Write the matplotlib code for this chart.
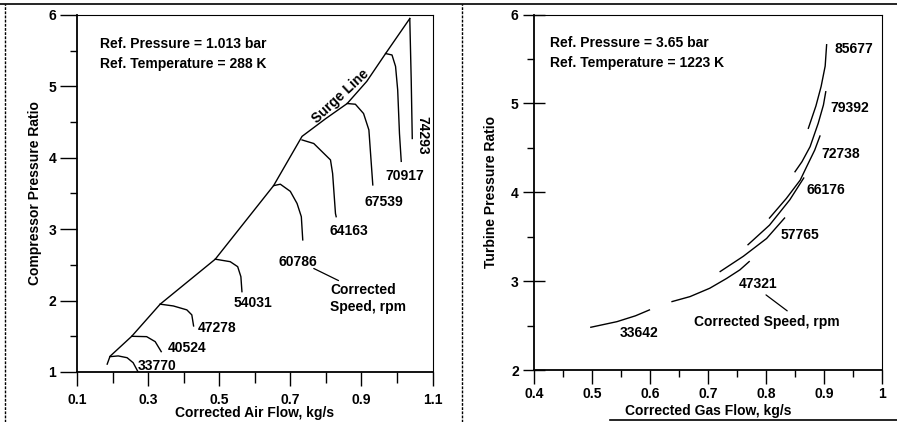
import matplotlib.pyplot as plt
from matplotlib.lines import Line2D
from matplotlib.ticker import MultipleLocator

plt.rcParams['font.family'] = ['Liberation Sans', 'DejaVu Sans']
plt.rcParams['font.weight'] = 'bold'
plt.rcParams['axes.labelweight'] = 'bold'
plt.rcParams['font.size'] = 10

# ---- compressor map data ----
surge_x = [0.185, 0.193, 0.254, 0.334, 0.489, 0.653, 0.733, 0.800, 0.860, 0.915, 0.968, 1.036]
surge_y = [1.11, 1.22, 1.50, 1.95, 2.58, 3.61, 4.30, 4.55, 4.76, 5.07, 5.46, 5.95]

comp_speeds = ['33770', '40524', '47278', '54031', '60786', '64163', '67539', '70917', '74293']
comp_x = [
    [0.193, 0.216, 0.241, 0.258, 0.272],
    [0.254, 0.296, 0.320, 0.337],
    [0.334, 0.371, 0.409, 0.423, 0.428],
    [0.489, 0.531, 0.552, 0.561, 0.564],
    [0.653, 0.672, 0.700, 0.719, 0.731, 0.735],
    [0.733, 0.766, 0.813, 0.819, 0.827, 0.829],
    [0.860, 0.883, 0.906, 0.921, 0.925, 0.932],
    [0.968, 0.986, 0.996, 1.002, 1.007, 1.012],
    [1.036, 1.040, 1.043],
]
comp_y = [
    [1.215, 1.225, 1.20, 1.13, 1.00],
    [1.50, 1.495, 1.425, 1.285],
    [1.95, 1.925, 1.87, 1.80, 1.645],
    [2.58, 2.545, 2.475, 2.335, 2.125],
    [3.61, 3.63, 3.53, 3.36, 3.175, 2.85],
    [4.25, 4.20, 3.97, 3.78, 3.22, 3.175],
    [4.76, 4.75, 4.62, 4.39, 4.11, 3.62],
    [5.46, 5.44, 5.28, 4.95, 4.34, 3.95],
    [5.95, 5.10, 4.27],
]
comp_lbl_x = [0.324, 0.409, 0.494, 0.594, 0.721, 0.864, 0.963, 1.021, 1.071]
comp_lbl_y = [1.088, 1.34, 1.616, 1.97, 2.545, 2.975, 3.385, 3.75, 4.32]

# ---- turbine map data ----
turb_speeds = ['85677', '79392', '72738', '66176', '57765', '47321', '33642']
turb_x = [
    [0.9045, 0.902, 0.895, 0.886, 0.873],
    [0.903, 0.899, 0.890, 0.876, 0.862, 0.850],
    [0.893, 0.884, 0.870, 0.859, 0.835, 0.806],
    [0.865, 0.841, 0.806, 0.769],
    [0.832, 0.801, 0.761, 0.721],
    [0.771, 0.755, 0.732, 0.703, 0.669, 0.638],
    [0.498, 0.543, 0.575, 0.599],
]
turb_y = [
    [5.66, 5.42, 5.19, 4.97, 4.72],
    [5.131, 4.982, 4.776, 4.513, 4.344, 4.231],
    [4.633, 4.475, 4.287, 4.137, 3.93, 3.71],
    [4.16, 3.915, 3.63, 3.41],
    [3.71, 3.48, 3.28, 3.108],
    [3.22, 3.127, 3.03, 2.92, 2.826, 2.77],
    [2.481, 2.544, 2.61, 2.676],
]
turb_lbl_x = [0.952, 0.944, 0.929, 0.903, 0.859, 0.786, 0.581]
turb_lbl_y = [5.617, 4.95, 4.43, 4.02, 3.52, 2.966, 2.414]

fig = plt.figure(figsize=(8.97, 4.22), dpi=100)

# ---------- left: compressor ----------
ax1 = fig.add_axes([0.0858, 0.1185, 0.3964, 0.846])
ax1.plot(surge_x, surge_y, color='black', lw=1)
for xs, ys in zip(comp_x, comp_y):
    ax1.plot(xs, ys, color='black', lw=1)
for i, s in enumerate(comp_speeds):
    rot = 270 if s == '74293' else 0
    ax1.text(comp_lbl_x[i], comp_lbl_y[i], s, ha='center', va='center', rotation=rot)
ax1.text(0.841, 4.856, 'Surge Line', rotation=43, ha='center', va='center')
ax1.text(0.165, 5.60, 'Ref. Pressure = 1.013 bar', va='center')
ax1.text(0.165, 5.32, 'Ref. Temperature = 288 K', va='center')
ax1.annotate('Corrected\nSpeed, rpm', xy=(0.766, 2.45), xytext=(0.813, 2.03),
             va='center', ha='left',
             arrowprops=dict(arrowstyle='-', color='black', lw=0.9,
                             relpos=(0.18, 1.0), shrinkA=0, shrinkB=0))
ax1.set_xlim(0.1, 1.1)
ax1.set_ylim(1, 6)
ax1.xaxis.set_minor_locator(MultipleLocator(0.1))
ax1.yaxis.set_major_locator(MultipleLocator(1))
ax1.yaxis.set_minor_locator(MultipleLocator(0.5))
ax1.set_xticks([0.1, 0.3, 0.5, 0.7, 0.9, 1.1])
ax1.set_xticklabels(['0.1', '0.3', '0.5', '0.7', '0.9', '1.1'])
ax1.tick_params(axis='x', which='major', direction='out', length=10, width=1, pad=5)
ax1.tick_params(axis='x', which='minor', direction='out', length=8, width=1)
ax1.tick_params(axis='y', which='major', direction='out', length=12, width=1, pad=3)
ax1.tick_params(axis='y', which='minor', direction='out', length=5, width=1)
ax1.set_xlabel('Corrected Air Flow, kg/s')
ax1.set_ylabel('Compressor Pressure Ratio')
ax1.xaxis.set_label_coords(0.5, -0.095)
ax1.yaxis.set_label_coords(-0.098, 0.5)
ax1.spines['left'].set_linewidth(1.3)
ax1.spines['bottom'].set_linewidth(1.3)
ax1.spines['top'].set_linewidth(0.8)
ax1.spines['right'].set_linewidth(0.8)
ax1.spines['right'].set_linestyle((0, (2, 1)))

# ---------- right: turbine ----------
ax2 = fig.add_axes([0.5953, 0.1232, 0.388, 0.8424])
for xs, ys in zip(turb_x, turb_y):
    ax2.plot(xs, ys, color='black', lw=1)
for i, s in enumerate(turb_speeds):
    ax2.text(turb_lbl_x[i], turb_lbl_y[i], s, ha='center', va='center')
ax2.text(0.4274, 5.68, 'Ref. Pressure = 3.65 bar', va='center')
ax2.text(0.4274, 5.456, 'Ref. Temperature = 1223 K', va='center')
ax2.annotate('Corrected Speed, rpm', xy=(0.800, 2.845), xytext=(0.676, 2.537),
             va='center', ha='left',
             arrowprops=dict(arrowstyle='-', color='black', lw=0.9,
                             relpos=(0.68, 1.0), shrinkA=2, shrinkB=0))
ax2.set_xlim(0.4, 1.0)
ax2.set_ylim(2, 6)
ax2.xaxis.set_minor_locator(MultipleLocator(0.05))
ax2.yaxis.set_major_locator(MultipleLocator(1))
ax2.yaxis.set_minor_locator(MultipleLocator(0.5))
ax2.set_xticks([0.4, 0.5, 0.6, 0.7, 0.8, 0.9, 1.0])
ax2.set_xticklabels(['0.4', '0.5', '0.6', '0.7', '0.8', '0.9', '1'])
ax2.tick_params(axis='x', which='major', direction='out', length=10, width=1, pad=2)
ax2.tick_params(axis='x', which='minor', direction='out', length=5, width=1)
ax2.tick_params(axis='y', which='major', direction='inout', length=16, width=1, pad=3)
ax2.tick_params(axis='y', which='minor', direction='out', length=5, width=1)
ax2.set_xlabel('Corrected Gas Flow, kg/s')
ax2.set_ylabel('Turbine Pressure Ratio')
ax2.xaxis.set_label_coords(0.5, -0.097)
ax2.yaxis.set_label_coords(-0.103, 0.5)
ax2.spines['left'].set_linewidth(1.3)
ax2.spines['bottom'].set_linewidth(1.3)
ax2.spines['top'].set_linewidth(0.8)
ax2.spines['right'].set_linewidth(0.8)

# page frame lines of the scanned figure
fig.add_artist(Line2D([0, 1], [0.991, 0.991], color='black', lw=1.2))
fig.add_artist(Line2D([0.006, 0.006], [0, 0.991], color='black', lw=1, ls=(0, (2, 1))))
fig.add_artist(Line2D([0.515, 0.515], [0, 0.991], color='black', lw=1, ls=(0, (2, 1))))
fig.add_artist(Line2D([0.68, 1], [0.004, 0.004], color='black', lw=1.2))

fig.savefig('out.png', dpi=100)
